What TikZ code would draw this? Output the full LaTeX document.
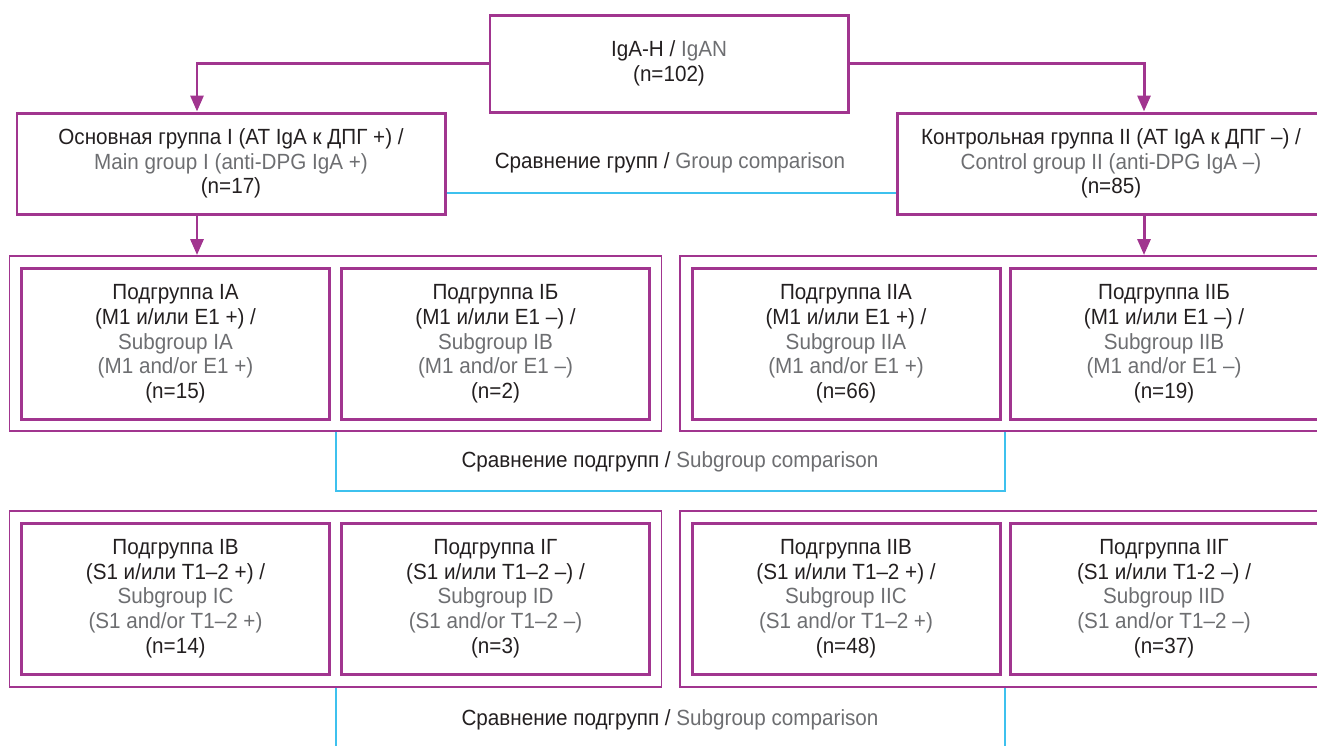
\documentclass[tikz,border=0pt]{standalone}
\usepackage{fontspec}
\setmainfont{Liberation Sans}[FakeStretch=0.94]
\usepackage{tikz}
\usetikzlibrary{arrows.meta}

\definecolor{purp}{HTML}{A1358F}
\definecolor{cmpblue}{HTML}{3EC1EE}
\definecolor{rutext}{HTML}{231F20}
\definecolor{engray}{HTML}{6D6E71}
\newcommand{\engl}[1]{\textcolor{engray}{#1}}

\tikzset{
  grpbox/.style={draw=purp, line width=1.7pt, align=center, text=rutext,
    font=\fontsize{12.5}{14}\selectfont, inner sep=0pt},
  frame/.style={draw=purp, line width=1.1pt, inner sep=0pt},
  cmp/.style={draw=cmpblue, line width=1.1pt},
  cmplabel/.style={text=rutext, font=\fontsize{12.5}{14}\selectfont},
  arr/.style={draw=purp, line width=1.7pt, -{Triangle[length=0.32cm, width=0.26cm]}}
}

\begin{document}
\begin{tikzpicture}[x=0.2mm, y=-0.2mm]
    \useasboundingbox (0,0) rectangle (1317,745);

    % Whole cohort
    \node[grpbox, minimum width=71.6mm, minimum height=19.4mm] (root) at (669,63.5)
      {IgA-H / \engl{IgAN}\\(n=102)};

    % Groups
    \node[grpbox, minimum width=85.6mm, minimum height=20.2mm] (g1) at (231,163.5)
      {Основная группа I (АТ IgA к ДПГ +) /\\\engl{Main group I (anti-DPG IgA +)}\\(n=17)};
    \node[grpbox, minimum width=85.6mm, minimum height=20.2mm] (g2) at (1111,163.5)
      {Контрольная группа II (АТ IgA к ДПГ –) /\\\engl{Control group II (anti-DPG IgA –)}\\(n=85)};

    % Frames round the subgroup pairs
    \node[frame, minimum width=130.4mm, minimum height=35mm] (o1) at (335.5,343.5) {};
    \node[frame, minimum width=130.4mm, minimum height=35mm] (o2) at (1006,343.5) {};
    \node[frame, minimum width=130.4mm, minimum height=35.2mm] (o3) at (335.5,599) {};
    \node[frame, minimum width=130.4mm, minimum height=35.2mm] (o4) at (1006,599) {};

    % Subgroups by M1/E1
    \node[grpbox, minimum width=61.6mm, minimum height=30.2mm] (s1a) at (175.5,343.8)
      {Подгруппа IA\\(M1 и/или E1 +) /\\\engl{Subgroup IA}\\\engl{(M1 and/or E1 +)}\\(n=15)};
    \node[grpbox, minimum width=61.6mm, minimum height=30.2mm] (s1b) at (495.5,343.8)
      {Подгруппа IБ\\(M1 и/или E1 –) /\\\engl{Subgroup IB}\\\engl{(M1 and/or E1 –)}\\(n=2)};
    \node[grpbox, minimum width=61.6mm, minimum height=30.2mm] (s2a) at (846,343.8)
      {Подгруппа IIA\\(M1 и/или E1 +) /\\\engl{Subgroup IIA}\\\engl{(M1 and/or E1 +)}\\(n=66)};
    \node[grpbox, minimum width=61.6mm, minimum height=30.2mm] (s2b) at (1164,343.8)
      {Подгруппа IIБ\\(M1 и/или E1 –) /\\\engl{Subgroup IIB}\\\engl{(M1 and/or E1 –)}\\(n=19)};

    % Subgroups by S1/T1-2
    \node[grpbox, minimum width=61.6mm, minimum height=30.2mm] (s1c) at (175.5,598.5)
      {Подгруппа IВ\\(S1 и/или T1–2 +) /\\\engl{Subgroup IC}\\\engl{(S1 and/or T1–2 +)}\\(n=14)};
    \node[grpbox, minimum width=61.6mm, minimum height=30.2mm] (s1d) at (495.5,598.5)
      {Подгруппа IГ\\(S1 и/или T1–2 –) /\\\engl{Subgroup ID}\\\engl{(S1 and/or T1–2 –)}\\(n=3)};
    \node[grpbox, minimum width=61.6mm, minimum height=30.2mm] (s2c) at (846,598.5)
      {Подгруппа IIВ\\(S1 и/или T1–2 +) /\\\engl{Subgroup IIC}\\\engl{(S1 and/or T1–2 +)}\\(n=48)};
    \node[grpbox, minimum width=61.6mm, minimum height=30.2mm] (s2d) at (1164,598.5)
      {Подгруппа IIГ\\(S1 и/или T1-2 –) /\\\engl{Subgroup IID}\\\engl{(S1 and/or T1–2 –)}\\(n=37)};

    % Arrows from the cohort to the groups
    \coordinate (c1) at (197,0);
    \coordinate (c2) at (1144,0);
    \draw[arr] (root.west) -| (c1 |- g1.north);
    \draw[arr] (root.east) -| (c2 |- g2.north);
    \draw[arr] (c1 |- g1.south) -- (c1 |- o1.north);
    \draw[arr] (c2 |- g2.south) -- (c2 |- o2.north);

    % Group comparison
    \coordinate (cg) at (0,193);
    \draw[cmp] (g1.east |- cg) -- (g2.west |- cg);
    \node[cmplabel] (lg) at (670,163) {Сравнение групп / \engl{Group comparison}};

    % Subgroup comparisons
    \coordinate (k1) at (336,491);
    \coordinate (k2) at (1005,491);
    \draw[cmp] (k1 |- o1.south) -- (k1) -- (k2) -- (k2 |- o2.south);
    \node[cmplabel] (ls1) at (670,462) {Сравнение подгрупп / \engl{Subgroup comparison}};

    \coordinate (k3) at (336,760);
    \coordinate (k4) at (1005,760);
    \draw[cmp] (k3 |- o3.south) -- (k3);
    \draw[cmp] (k4 |- o4.south) -- (k4);
    \node[cmplabel] (ls2) at (670,720) {Сравнение подгрупп / \engl{Subgroup comparison}};

  \end{tikzpicture}
\end{document}
